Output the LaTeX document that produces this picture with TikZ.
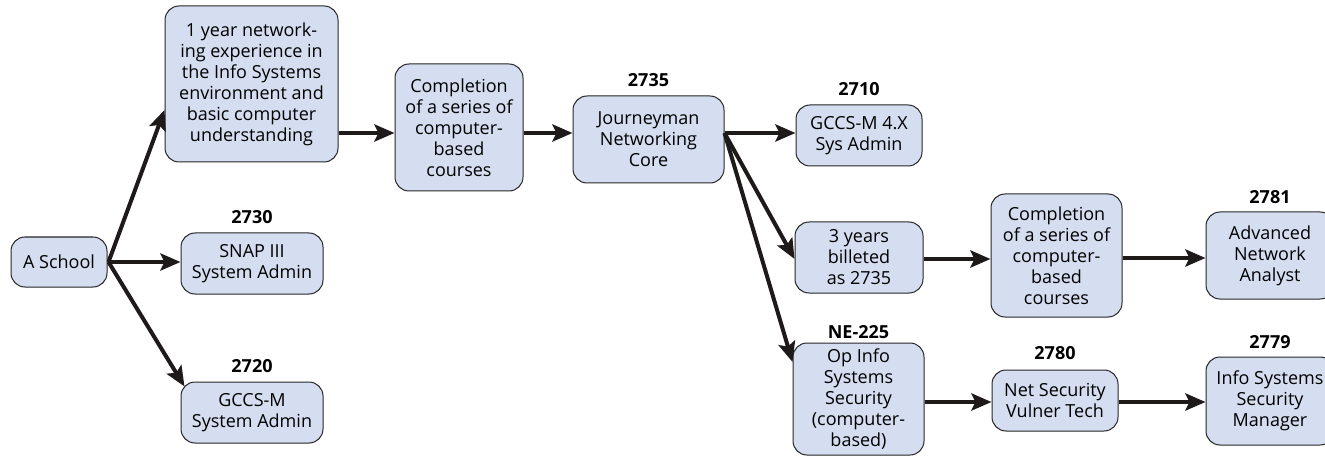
\documentclass[tikz,border=0pt]{standalone}
\usepackage{fontspec}
\setmainfont{Open Sans}
\usetikzlibrary{arrows.meta,calc}
\definecolor{boxblue}{HTML}{D5DEF0}
\definecolor{boxline}{HTML}{262626}
\definecolor{arrowc}{HTML}{1E1A1A}
\tikzset{
  cbox/.style={draw=boxline, fill=boxblue, line width=1pt, rounded corners=14pt,
    align=center, inner sep=0pt, font=\fontsize{18}{21}\selectfont},
  codelabel/.style={font=\fontsize{18}{21}\selectfont\bfseries, inner sep=0pt},
  flow/.style={draw=arrowc, line width=4pt, -{Stealth[length=20pt,width=17pt,inset=4pt]}}
}
\begin{document}
\begin{tikzpicture}[x=1pt,y=-1pt]
\useasboundingbox[fill=white] (0,0) rectangle (1325,457);
% boxes
\node[cbox, minimum width=96pt, minimum height=50pt] (school) at (59,262) {A School};
\node[cbox, minimum width=173pt, minimum height=156pt] (exp) at (251.5,84) {1 year network-\\ing experience in\\the Info Systems\\environment and\\basic computer\\understanding};
\node[cbox, minimum width=142pt, minimum height=61pt] (snap) at (252,263.5) {SNAP III\\System Admin};
\node[cbox, minimum width=142pt, minimum height=61pt] (gccsm) at (252,412.5) {GCCS-M\\System Admin};
\node[cbox, minimum width=128pt, minimum height=127pt] (comp1) at (459,127.5) {Completion\\of a series of\\computer-\\based\\courses};
\node[cbox, minimum width=151pt, minimum height=87pt] (jour) at (648.5,139.5) {Journeyman\\Networking\\Core};
\node[cbox, minimum width=126pt, minimum height=61pt] (g4x) at (859,135.5) {GCCS-M 4.X\\Sys Admin};
\node[cbox, minimum width=128pt, minimum height=71pt] (yrs) at (859,257.5) {3 years\\billeted\\as 2735};
\node[cbox, minimum width=131pt, minimum height=123pt] (comp2) at (1056.5,255.5) {Completion\\of a series of\\computer-\\based\\courses};
\node[cbox, minimum width=128pt, minimum height=87pt] (adv) at (1270,255.5) {Advanced\\Network\\Analyst};
\node[cbox, minimum width=131pt, minimum height=112pt] (ne) at (858.5,399) {Op Info\\Systems\\Security\\(computer-\\based)};
\node[cbox, minimum width=126pt, minimum height=61pt] (net) at (1055,400.5) {Net Security\\Vulner Tech};
\node[cbox, minimum width=128pt, minimum height=88pt] (iss) at (1270,401) {Info Systems\\Security\\Manager};
% code labels
\node[codelabel] (l2730) at (252,217) {2730};
\node[codelabel] (l2720) at (252,366) {2720};
\node[codelabel] (l2735) at (648.5,80) {2735};
\node[codelabel] (l2710) at (859,89) {2710};
\node[codelabel] (l2781) at (1270,197) {2781};
\node[codelabel] (lne) at (858.5,332) {NE-225};
\node[codelabel] (l2780) at (1055,353) {2780};
\node[codelabel] (l2779) at (1270,342) {2779};
% connectors
\coordinate (s0) at ([xshift=1pt]school.east);
\draw[flow] (s0) -- ([yshift=-26pt]exp.west);
\draw[flow] (s0) -- (snap.west |- s0);
\draw[flow] (s0) -- ([xshift=4pt,yshift=-5pt]gccsm.north west);
\coordinate (e0) at ([yshift=-49pt]exp.east);
\draw[flow] (e0) -- (e0 -| comp1.west);
\coordinate (c0) at ([yshift=-5.5pt]comp1.east);
\draw[flow] (c0) -- (c0 -| jour.west);
\coordinate (j0) at ([yshift=6.5pt]jour.east);
\draw[flow] (j0) -- (j0 -| g4x.west);
\draw[flow] (j0) -- ([yshift=-1.5pt]yrs.west);
\draw[flow] (j0) -- ([yshift=37pt]ne.west);
\coordinate (y0) at ([yshift=-1.5pt]yrs.east);
\draw[flow] (y0) -- (y0 -| comp2.west);
\coordinate (c2) at ([yshift=-2.5pt]comp2.east);
\draw[flow] (c2) -- (c2 -| adv.west);
\coordinate (n0) at ([yshift=-3pt]ne.east);
\draw[flow] (n0) -- (n0 -| net.west);
\coordinate (t0) at ([yshift=-1.5pt]net.east);
\draw[flow] (t0) -- (t0 -| iss.west);
\end{tikzpicture}
\end{document}
